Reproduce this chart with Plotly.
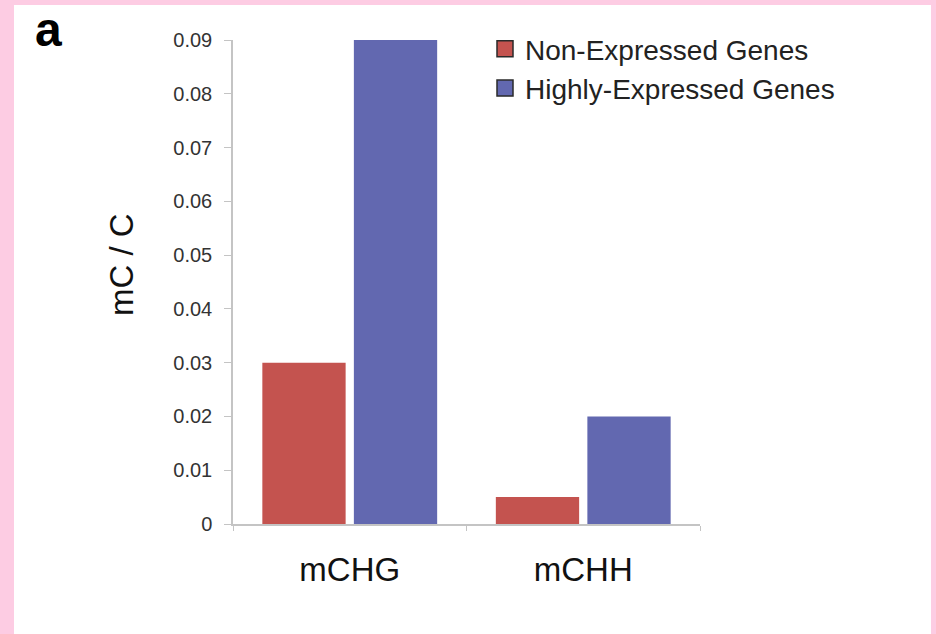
import plotly.graph_objects as go

# Methylation levels per context, split by gene expression class
contexts = ["mCHG", "mCHH"]
non_expressed = [0.030, 0.005]
highly_expressed = [0.090, 0.020]
series_names = ["Non-Expressed Genes", "Highly-Expressed Genes"]
y_ticks = [0, 0.01, 0.02, 0.03, 0.04, 0.05, 0.06, 0.07, 0.08, 0.09]
y_tick_text = ["0", "0.01", "0.02", "0.03", "0.04", "0.05", "0.06", "0.07", "0.08", "0.09"]
y_title = "mC / C"
panel_label = "a"

RED = "#C4534F"
BLUE = "#6268B0"
AXIS_GREY = "#C4C4C4"
FONT = "Liberation Sans, Arial, Helvetica, sans-serif"

fig = go.Figure()
fig.add_trace(go.Bar(x=contexts, y=non_expressed, name=series_names[0],
                     marker=dict(color=RED, line=dict(width=0)), showlegend=False))
fig.add_trace(go.Bar(x=contexts, y=highly_expressed, name=series_names[1],
                     marker=dict(color=BLUE, line=dict(width=0)), showlegend=False))

# Legend swatches with dark outlines
for name, col, grp in [(series_names[0], RED, "a"), (series_names[1], BLUE, "b")]:
    fig.add_trace(go.Scatter(x=[None], y=[None], mode="markers", name=name,
                             legendgroup=grp,
                             marker=dict(symbol="square", size=16, color=col,
                                         line=dict(color="#2A2A2A", width=1.5))))

W, H = 936, 634
L, R, T, B = 233, 236, 40, 110
pw, ph = W - L - R, H - T - B

def px_x(v):
    return (v - L) / pw

def px_y(v):
    return (H - B - v) / ph

fig.update_layout(
    width=W, height=H,
    margin=dict(l=L, r=R, t=T, b=B),
    paper_bgcolor="#FDCCE3",
    plot_bgcolor="white",
    barmode="group",
    bargap=0.216,
    bargroupgap=0.09,
    font=dict(family=FONT, color="#222222"),
    legend=dict(x=px_x(485), y=px_y(24), xanchor="left", yanchor="top",
                font=dict(size=28, family=FONT, color="#222222"),
                bgcolor="rgba(0,0,0,0)", tracegroupgap=0,
                itemwidth=30),
    shapes=[dict(type="rect", xref="paper", yref="paper",
                 x0=px_x(14), x1=px_x(931), y0=px_y(5), y1=px_y(640),
                 fillcolor="white", line=dict(width=0), layer="below")],
    annotations=[
        dict(text="<b>" + panel_label + "</b>", xref="paper", yref="paper",
             x=px_x(33), y=px_y(30), xanchor="left", yanchor="middle",
             showarrow=False, font=dict(size=48, family=FONT, color="black")),
        dict(text=y_title, xref="paper", yref="paper", textangle=-90,
             x=px_x(121), y=px_y(265), xanchor="center", yanchor="middle",
             showarrow=False, font=dict(size=33, family=FONT, color="#111111")),
    ],
)

fig.update_xaxes(
    showline=True, linecolor=AXIS_GREY, linewidth=1.5,
    ticks="outside", tickson="boundaries", ticklen=5, tickcolor=AXIS_GREY,
    tickfont=dict(size=33, family=FONT, color="#111111"),
    ticklabelstandoff=16,
    showgrid=False, zeroline=False,
)
fig.update_yaxes(
    range=[0, 0.09],
    tickvals=y_ticks, ticktext=y_tick_text,
    showline=True, linecolor=AXIS_GREY, linewidth=1.5,
    ticks="outside", ticklen=7, tickcolor=AXIS_GREY,
    tickfont=dict(size=20, family=FONT, color="#333333"),
    ticklabelstandoff=8,
    showgrid=False, zeroline=False,
)

fig.write_html("out.html")
